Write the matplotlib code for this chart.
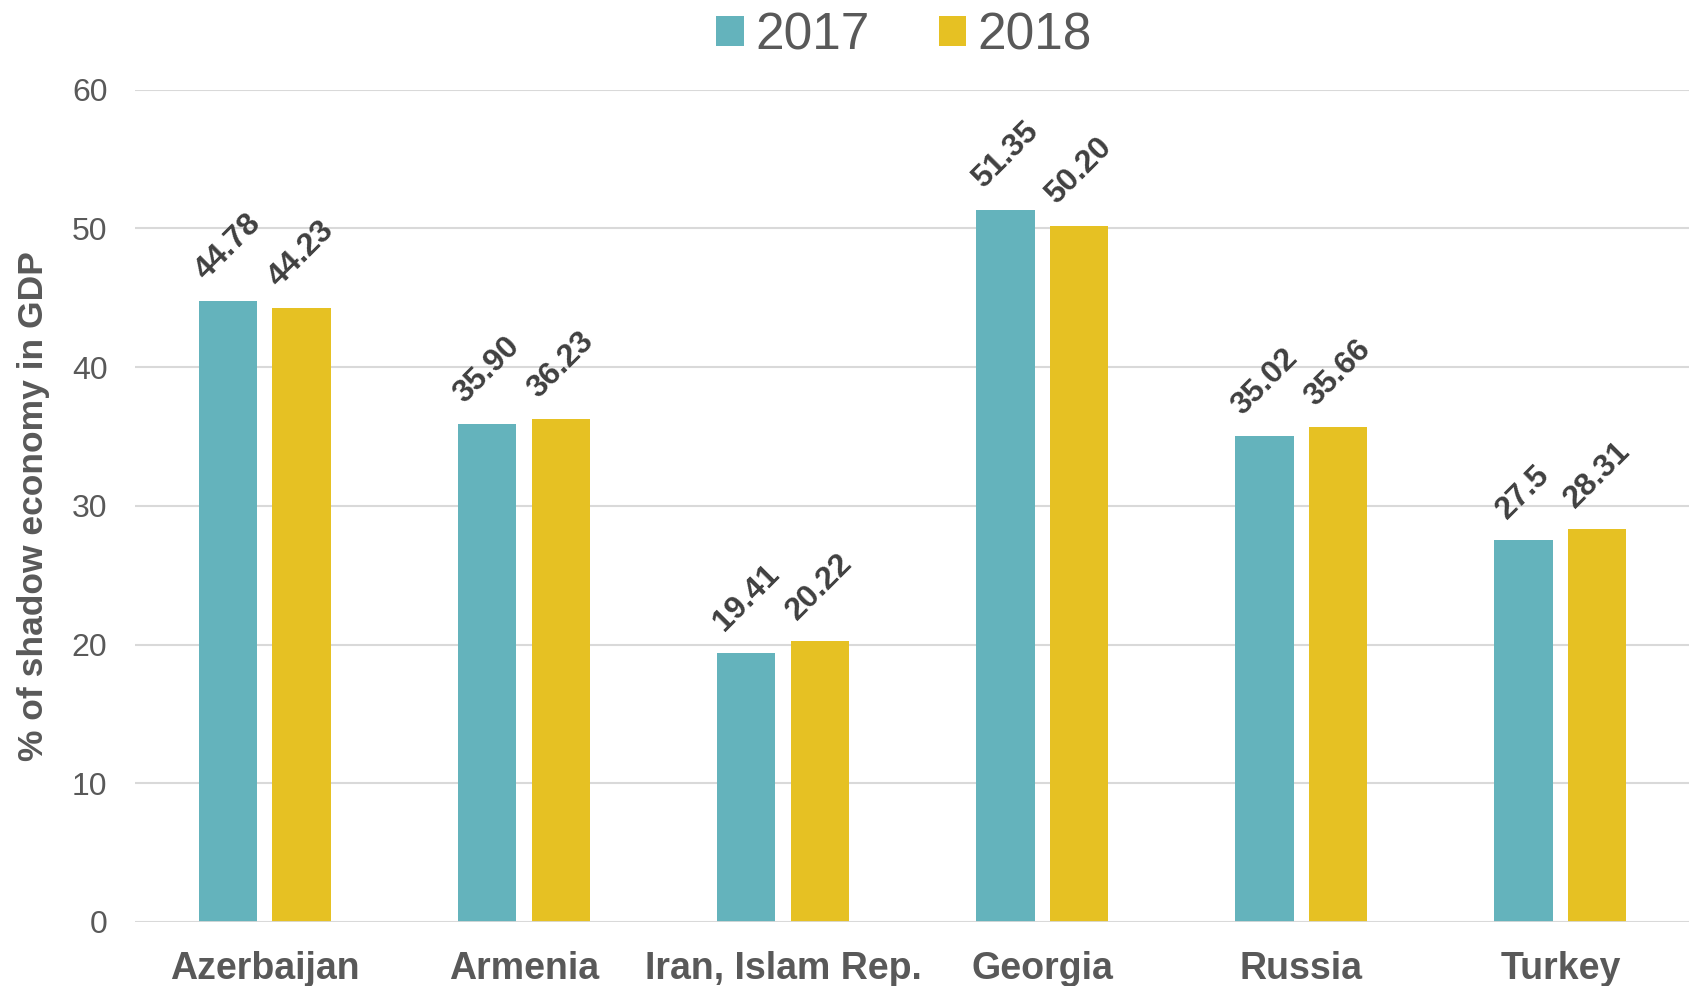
import matplotlib as mpl
import matplotlib.pyplot as plt
import numpy as np

mpl.rcParams["font.family"] = ["Liberation Sans", "DejaVu Sans"]

countries = ["Azerbaijan", "Armenia", "Iran, Islam Rep.", "Georgia", "Russia", "Turkey"]
v2017 = [44.78, 35.90, 19.41, 51.35, 35.02, 27.5]
v2018 = [44.23, 36.23, 20.22, 50.20, 35.66, 28.31]
lab2017 = ["44.78", "35.90", "19.41", "51.35", "35.02", "27.5"]
lab2018 = ["44.23", "36.23", "20.22", "50.20", "35.66", "28.31"]

teal = "#64B3BC"
gold = "#E6C123"
grey = "#595959"

fig = plt.figure(figsize=(16.9, 9.86), dpi=100)
ax = fig.add_axes([0.080, 0.065, 0.920, 0.844])

x = np.arange(len(countries))
w = 0.225
off = 0.142
b1 = ax.bar(x - off, v2017, w, color=teal, label="2017", zorder=3)
b2 = ax.bar(x + off, v2018, w, color=gold, label="2018", zorder=3)

# rotated value labels
for bars, labs in ((b1, lab2017), (b2, lab2018)):
    for b, t in zip(bars, labs):
        ax.annotate(t, (b.get_x() + b.get_width() / 2, b.get_height()),
                    xytext=(0, 11), textcoords="offset points",
                    ha="center", va="bottom", rotation=45,
                    fontsize=23, fontweight="bold", color="#404040")

ax.set_xlim(-0.5, len(countries) - 0.5)
ax.set_ylim(0, 60)
ax.set_yticks(range(0, 61, 10))
ax.yaxis.grid(True, color="#D9D9D9", linewidth=1.5, zorder=0)
for s in ax.spines.values():
    s.set_visible(False)
ax.axhline(0, color="#D9D9D9", linewidth=2, zorder=4)
ax.tick_params(axis="both", length=0)
ax.tick_params(axis="y", labelsize=23, labelcolor=grey, pad=20)
ax.set_xticks(x)
ax.set_xticklabels(countries, fontsize=27, fontweight="bold", color=grey)
ax.tick_params(axis="x", pad=21)
ax.set_ylabel("% of shadow economy in GDP", fontsize=25.5, fontweight="bold", color=grey)
ax.yaxis.set_label_coords(-0.055, 0.5)

leg = ax.legend(loc="center", bbox_to_anchor=(0.4945, 1.065), ncol=2, frameon=False,
                fontsize=37, handlelength=0.54, handleheight=0.54, handletextpad=0.22,
                columnspacing=1.35, borderaxespad=0.0)
for t in leg.get_texts():
    t.set_color(grey)

plt.savefig("out.png", dpi=100)
